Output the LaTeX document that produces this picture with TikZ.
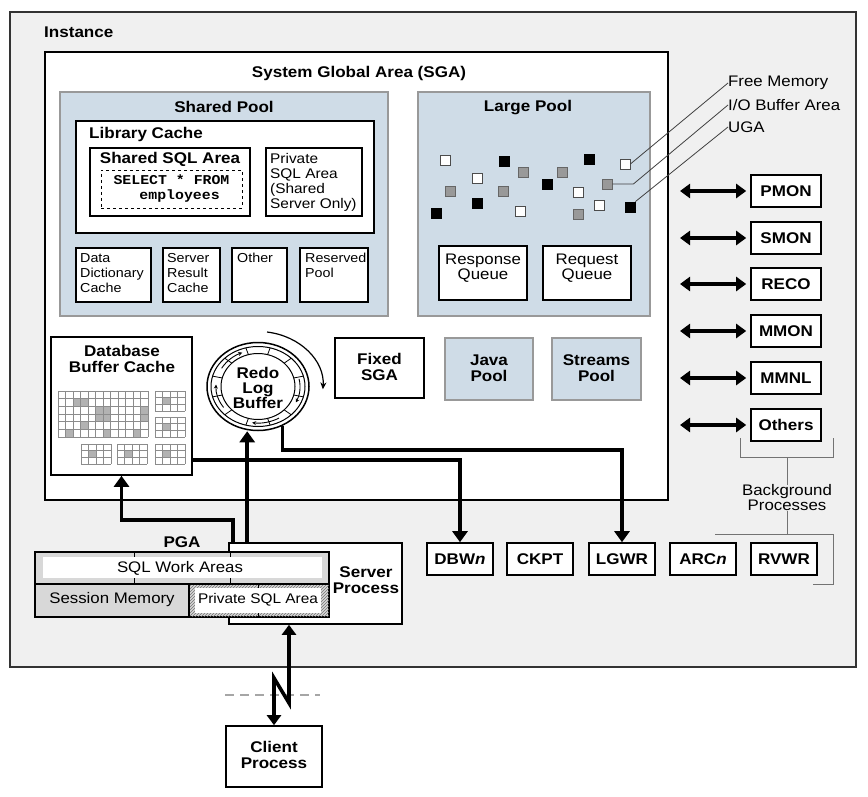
\documentclass[tikz,border=0pt]{standalone}
\usepackage{fontspec}
\setmainfont{Liberation Sans}[FakeStretch=1.1]
\newfontfamily\codefont{Liberation Mono}[FakeStretch=1.1]
\usetikzlibrary{arrows.meta,shapes.geometric,patterns,calc}
\definecolor{lblue}{HTML}{CFDCE7}
\definecolor{instgray}{HTML}{F0F0F0}
\definecolor{pgagray}{HTML}{D8D8D8}
\tikzset{
 box/.style={draw=black, line width=1.6pt, fill=white, inner sep=0pt},
 pool/.style={draw=black!40, line width=2.8pt, fill=lblue, inner sep=0pt},
 proc/.style={box, minimum width=70pt, minimum height=32pt, font=\bfseries\fontsize{15.5}{15}\selectfont},
 bproc/.style={box, minimum width=66pt, minimum height=32pt, font=\bfseries\fontsize{15.5}{15}\selectfont},
 ttl/.style={font=\bfseries\fontsize{15.5}{16}\selectfont, inner sep=0pt, align=center},
 txt/.style={font=\fontsize{15.3}{15}\selectfont, inner sep=0pt, align=center},
 small/.style={font=\fontsize{13}{15}\selectfont, inner sep=0pt, align=left},
 conn/.style={line width=3.6pt, -{Triangle[length=11pt,width=15pt]}},
 dbl/.style={line width=3.6pt, {Triangle[length=10pt,width=14pt]}-{Triangle[length=10pt,width=14pt]}, shorten >=4pt},
 lead/.style={draw=black!75, line width=0.8pt},
 brk/.style={draw=black!55, line width=1pt},
 sq/.style={minimum size=10pt, inner sep=0pt, line width=0.8pt},
 sqw/.style={sq, draw=black!70, fill=white},
 sqg/.style={sq, draw=black!60, fill=black!40},
 sqb/.style={sq, draw=black, fill=black},
 cell/.style={draw=black!45, line width=0.4pt},
}
\begin{document}
\begin{tikzpicture}[x=1pt,y=-1pt]
\useasboundingbox (0,0) rectangle (868,797);
\fill[white] (0,0) rectangle (868,797);

% Instance and SGA
\node[draw=black!80, line width=1.4pt, fill=instgray, minimum width=846pt, minimum height=655pt, inner sep=0pt] (inst) at (433,339.5) {};
\node[ttl, anchor=west] (instl) at (44,32) {Instance};
\node[draw=black, line width=1.4pt, fill=white, minimum width=623pt, minimum height=448pt, inner sep=0pt] (sga) at (356.5,276) {};
\node[ttl] (sgal) at (359,73) {System Global Area (SGA)};

% Shared pool
\node[pool, minimum width=328pt, minimum height=224pt] (shp) at (224,204) {};
\node[ttl] (shpl) at (224,107) {Shared Pool};
\node[box, minimum width=298pt, minimum height=112pt] (lib) at (225,177) {};
\node[ttl, anchor=west] (libl) at (89,134) {Library Cache};
\node[box, minimum width=160pt, minimum height=68pt] (ssa) at (170,182) {};
\node[ttl] (ssal) at (170,159) {Shared SQL Area};
\node[draw, dashed, line width=0.9pt, minimum width=141pt, minimum height=38pt, inner sep=0pt,
  font=\codefont\bfseries\fontsize{13.5}{15}\selectfont, align=center] (sel) at (171.5,189) {SELECT * FROM\\\hspace*{1.2em}employees};
\node[box, minimum width=96pt, minimum height=68pt] (priv) at (314,182) {};
\node[small, font=\fontsize{14}{15}\selectfont, anchor=north west] (privl) at (270,153) {Private\\SQL Area\\(Shared\\Server Only)};

\node[box, minimum width=75pt, minimum height=54pt] (ddc) at (113.5,275) {};
\node[small, anchor=north west] (ddcl) at (80,253) {Data\\Dictionary\\Cache};
\node[box, minimum width=57pt, minimum height=54pt] (src) at (191.5,275) {};
\node[small, anchor=north west] (srcl) at (167,253) {Server\\Result\\Cache};
\node[box, minimum width=55pt, minimum height=54pt] (oth2) at (259.5,275) {};
\node[small, anchor=north west] (oth2l) at (237,253) {Other};
\node[box, minimum width=68pt, minimum height=54pt] (rsv) at (334,275) {};
\node[small, anchor=north west] (rsvl) at (305,253) {Reserved\\Pool};

% Large pool
\node[pool, minimum width=232pt, minimum height=224pt] (lp) at (534,204) {};
\node[ttl] (lpl) at (528,108) {Large Pool};
\node[box, minimum width=88pt, minimum height=54pt] (rspq) at (483,273) {};
\node[txt] (rspql) at (483,268) {Response\\Queue};
\node[box, minimum width=88pt, minimum height=54pt] (reqq) at (587,273) {};
\node[txt] (reqql) at (587,268) {Request\\Queue};
\foreach \x/\y [count=\i] in {445/160,477/178,520/211,578/192,599/205}
  \node[sqw] (lw\i) at (\x,\y) {};
\foreach \x/\y [count=\i] in {523/172,450/191,503/191,562/172,578/214}
  \node[sqg] (lg\i) at (\x,\y) {};
\foreach \x/\y [count=\i] in {504/161,477/203,436/213,547/184,589/159}
  \node[sqb] (lb\i) at (\x,\y) {};
\node[sqw] (sqW) at (625,164) {};
\node[sqg] (sqG) at (607,184) {};
\node[sqb] (sqB) at (630,207) {};
\node[txt, anchor=west] (fm) at (728,83) {Free Memory};
\node[txt, anchor=west] (iob) at (728,105) {I/O Buffer Area};
\node[txt, anchor=west] (uga) at (728,127) {UGA};
\draw[lead] (sqW.east) -- (fm.west);
\draw[lead] (sqG.east) -- ++(21,0) -- (iob.west);
\draw[lead] (sqB.north east) -- (uga.west);

% Database buffer cache
\node[box, minimum width=141pt, minimum height=138pt] (dbc) at (121.5,406) {};
\node[ttl] (dbcl) at (122,359) {Database\\Buffer Cache};
\foreach \c/\r in {2/1,3/1,5/2,6/2,5/3,6/3,3/4,11/2,11/3,1/5,6/5,10/5}
  \fill[black!30] ({58+7.5*\c},{391+7.667*\r}) rectangle ++(7.5,7.667);
\foreach \i in {0,...,12} \draw[cell] ({58+7.5*\i},391) -- ({58+7.5*\i},437);
\foreach \j in {0,...,6} \draw[cell] (58,{391+7.667*\j}) -- (148,{391+7.667*\j});
\foreach \gx/\gy in {155/391,155/417,81/444,117/444,155/444} {
  \fill[black!30] ({\gx+7.5},{\gy+6.667}) rectangle ++(7.5,6.667);
  \foreach \i in {0,...,4} \draw[cell] ({\gx+7.5*\i},\gy) -- ({\gx+7.5*\i},{\gy+20});
  \foreach \j in {0,...,3} \draw[cell] (\gx,{\gy+6.667*\j}) -- ({\gx+30},{\gy+6.667*\j});
}

% Redo log buffer
\node[ellipse, draw=black, line width=1.5pt, fill=white, minimum width=102pt, minimum height=88pt, inner sep=0pt] (redo) at (258,386.5) {};
\begin{scope}[shift={(258,386.5)}, yscale=-1]
  \draw[line width=1pt] (0,0) ellipse [x radius=47, y radius=40];
  \draw[line width=1pt, fill=white] (0,0) ellipse [x radius=37, y radius=33];
  \foreach \a in {15,45,...,345}
    \draw[line width=0.8pt] ({37*cos(\a)},{33*sin(\a)}) -- ({47*cos(\a)},{40*sin(\a)});
  \foreach \s/\e in {150/112,215/177,-60/-98,12/-26}
    \draw[line width=0.9pt, -{Stealth[length=4pt,width=4pt]}] ({42*cos(\s)},{36.5*sin(\s)}) arc[start angle=\s, end angle=\e, x radius=42, y radius=36.5];
  \draw[line width=1.2pt, -{Stealth[length=7pt,width=6pt]}] ({65*cos(82)},{55*sin(82)}) arc[start angle=82, end angle=-3, x radius=65, y radius=55];
\end{scope}
\node[ttl, font=\bfseries\fontsize{15.5}{15}\selectfont] (redol) at (258,388) {Redo\\Log\\Buffer};

% Fixed SGA, Java, Streams
\node[box, minimum width=89pt, minimum height=60pt] (fsga) at (379.5,368) {};
\node[ttl] (fsgal) at (379.5,367) {Fixed\\SGA};
\node[pool, minimum width=88pt, minimum height=62pt] (java) at (489,369) {};
\node[ttl] (javal) at (489,368) {Java\\Pool};
\node[pool, minimum width=89pt, minimum height=62pt] (strm) at (596.5,369) {};
\node[ttl] (strml) at (596.5,368) {Streams\\Pool};

% Background processes (right)
\foreach \n/\t/\y in {pmon/PMON/191, smon/SMON/238, reco/RECO/284, mmon/MMON/331, mmnl/MMNL/378, oths/Others/425} {
  \node[proc] (\n) at (786,\y) {\t};
  \coordinate (\n-l) at (680,\y);
  \draw[dbl] (\n-l) -- (\n.west);
}
\draw[brk] (740,438) -- (740,457) -- (833,457) -- (833,438);
\node[txt] (bgl) at (787,498) {Background\\Processes};
\draw[brk] (787,457) -- (bgl.north);
\draw[brk] (bgl.south) -- (787,534);
\draw[brk] (715,534) -- (833,534) -- (833,584) -- (813,584);

% Bottom processes
\node[bproc] (dbwn) at (460,559) {DBW\textit{n}};
\node[bproc] (ckpt) at (540,559) {CKPT};
\node[bproc] (lgwr) at (622,559) {LGWR};
\node[bproc] (arcn) at (703,559) {ARC\textit{n}};
\node[bproc] (rvwr) at (784,559) {RVWR};

% Server process and PGA
\node[box, minimum width=173pt, minimum height=81pt] (srv) at (315.5,583.5) {};
\node[ttl] (srvl) at (366,580) {Server\\Process};
\node[draw=black, line width=1.3pt, fill=pgagray, minimum width=294pt, minimum height=65pt, inner sep=0pt] (pga) at (182,584.5) {};
\node[ttl] (pgal) at (182,542) {PGA};
\fill[white] (43,557) rectangle (322,578);
\draw[line width=0.8pt] (134,552) -- (134,557) (134,578) -- (134,584);
\draw[line width=0.8pt] (230,552) -- (230,557) (230,578) -- (230,584);
\fill[pattern=north east lines, pattern color=black!55] (189,584) rectangle (329,617);
\fill[white] (195,588) rectangle (321,613);
\draw[line width=0.8pt] (258,584) -- (258,588) (258,613) -- (258,617);
\draw[line width=1.3pt] (35,584) -- (329,584);
\draw[line width=1.3pt] (189,584) -- (189,617);
\draw[line width=1.3pt] (pga.north west) rectangle (pga.south east);
\node[txt] (sqlw) at (180,568) {SQL Work Areas};
\node[txt] (sesm) at (112,600) {Session Memory};
\node[txt, font=\fontsize{14}{15}\selectfont] (psql) at (258,600) {Private SQL Area};

% Connectors
\coordinate (y450) at (0,450);
\coordinate (y460) at (0,460);
\coordinate (y520) at (0,520);
\coordinate (spa) at ([xshift=5pt]srv.north west);
\coordinate (spb) at ([xshift=19pt]srv.north west);
\draw[conn] (spa) -- (spa |- y520) -| (dbc.south);
\draw[conn] (spb) -- (spb |- redo.south);
\draw[conn] (dbc.east |- y460) -| (dbwn.north);
\draw[conn] (redo.-58) -- (redo.-58 |- y450) -| (lgwr.north);

% Client process
\draw[draw=black!35, line width=2.5pt, dash pattern=on 9pt off 6pt] (225,695) -- (320,695);
\node[box, minimum width=96pt, minimum height=61pt] (cli) at (274,756.5) {};
\node[ttl] (clil) at (274,755) {Client\\Process};
\coordinate (x289) at (289,0);
\draw[line width=3.6pt, line join=miter, {Triangle[length=10pt,width=14pt]}-{Triangle[length=10pt,width=14pt]}] (cli.north) -- (274,678) -- (289,703) -- (x289 |- srv.south);
\end{tikzpicture}
\end{document}
